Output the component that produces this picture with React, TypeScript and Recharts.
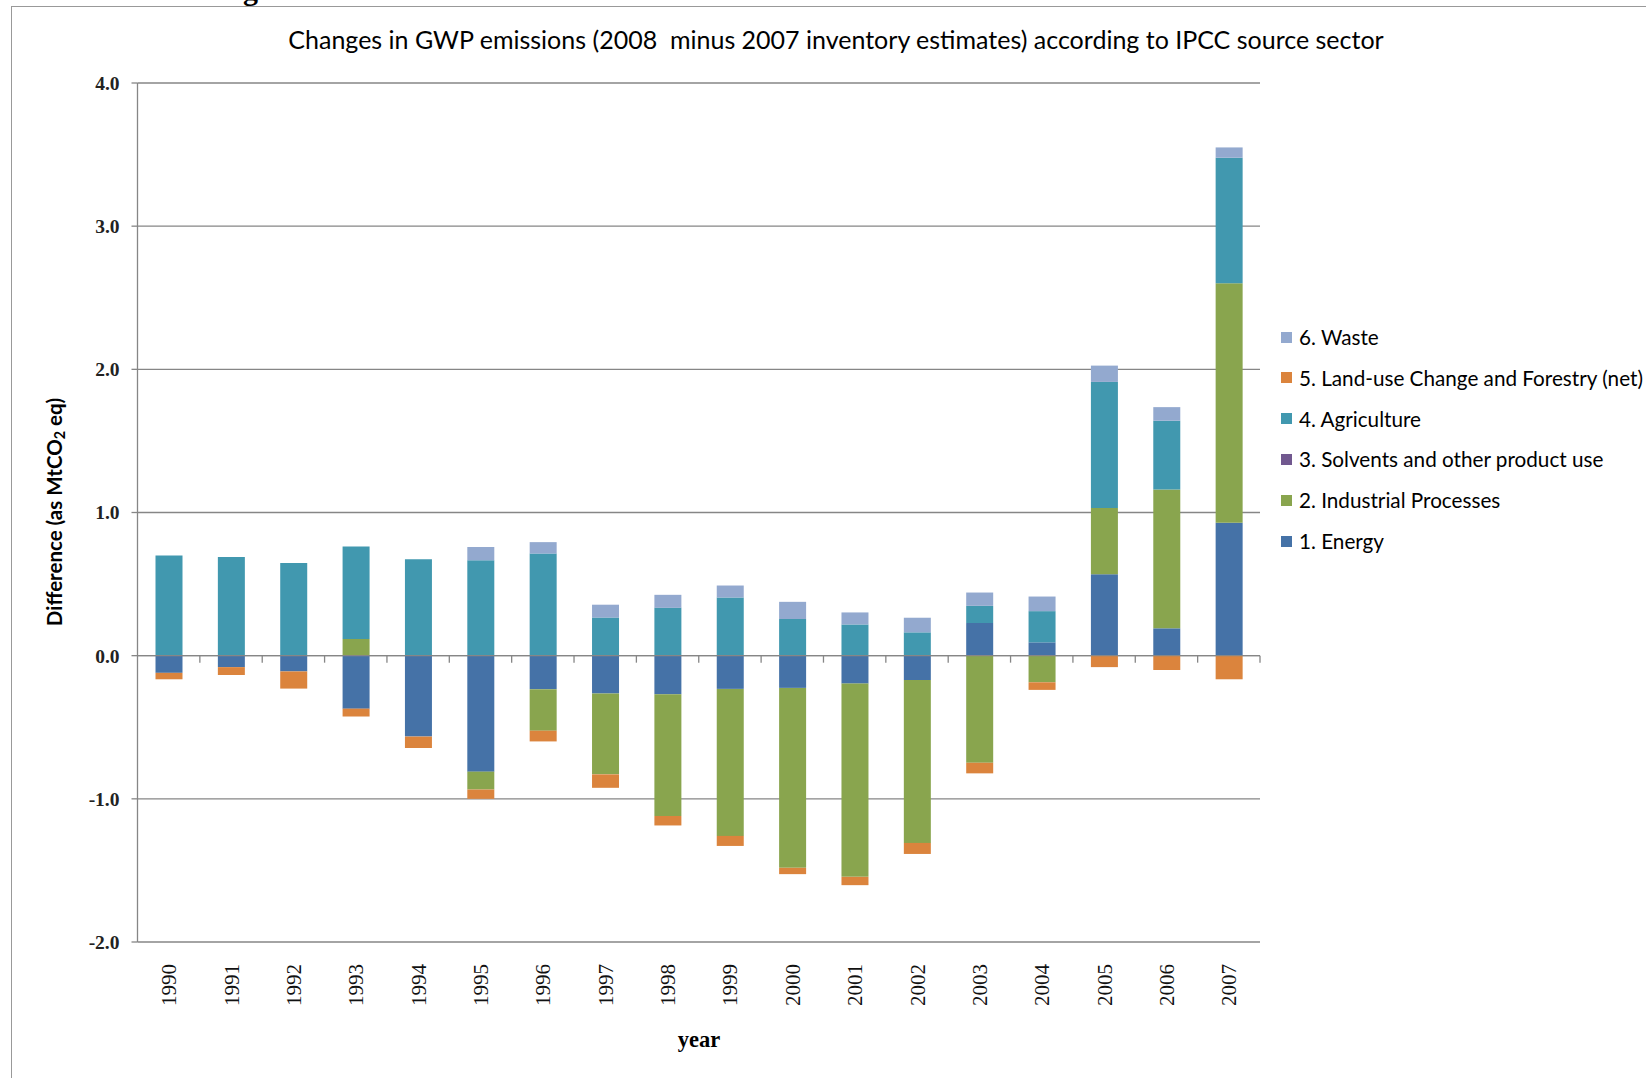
import React from "react";
import { Bar, BarChart, CartesianGrid, ReferenceLine, XAxis, YAxis } from "recharts";

const YEARS = ["1990", "1991", "1992", "1993", "1994", "1995", "1996", "1997", "1998", "1999", "2000", "2001", "2002", "2003", "2004", "2005", "2006", "2007"];

const ENERGY = [-0.12, -0.08, -0.11, -0.37, -0.565, -0.81, -0.234, -0.264, -0.27, -0.232, -0.225, -0.195, -0.17, 0.228, 0.093, 0.568, 0.191, 0.928];
const INDUSTRIAL = [0, 0, 0, 0.117, 0, -0.125, -0.29, -0.565, -0.85, -1.027, -1.257, -1.35, -1.138, -0.748, -0.186, 0.463, 0.969, 1.674];
const SOLVENTS = [0, 0, 0, 0, 0, 0, 0, 0, 0, 0, 0, 0, 0, 0, 0, 0, 0, 0];
const AGRICULTURE = [0.7, 0.69, 0.647, 0.645, 0.673, 0.666, 0.713, 0.266, 0.334, 0.406, 0.256, 0.218, 0.163, 0.12, 0.218, 0.881, 0.481, 0.876];
const LUCF = [-0.045, -0.055, -0.12, -0.055, -0.08, -0.065, -0.075, -0.094, -0.066, -0.07, -0.044, -0.058, -0.077, -0.074, -0.053, -0.08, -0.1, -0.165];
const WASTE = [0, 0, 0, 0, 0, 0.093, 0.08, 0.09, 0.091, 0.084, 0.12, 0.084, 0.102, 0.093, 0.102, 0.114, 0.095, 0.072];

const Y_TICKS = [-2, -1, 0, 1, 2, 3, 4];

// drawing order (bottom of stack first)
const SERIES = [
  { key: "energy", name: "1. Energy", color: "#4572A7", values: ENERGY },
  { key: "industrial", name: "2. Industrial Processes", color: "#89A54E", values: INDUSTRIAL },
  { key: "solvents", name: "3. Solvents and other product use", color: "#71588F", values: SOLVENTS },
  { key: "agriculture", name: "4. Agriculture", color: "#4198AF", values: AGRICULTURE },
  { key: "lucf", name: "5. Land-use Change and Forestry (net)", color: "#DB843D", values: LUCF },
  { key: "waste", name: "6. Waste", color: "#93A9CF", values: WASTE },
];

const data = YEARS.map((year, i) => {
  const row: Record<string, number | string> = { year };
  SERIES.forEach((s) => (row[s.key] = s.values[i]));
  return row;
});

const AXIS = "#868686";
const SANS = "Lato, 'Open Sans', sans-serif";
const SERIF = "'Liberation Serif', 'DejaVu Serif', serif";

function YearTick({ x, y, payload }: any) {
  return (
    <text x={x} y={y} dy="0.36em" textAnchor="end" transform={`rotate(-90, ${x}, ${y})`} fontFamily={SERIF} fontSize={21} fill="#111">
      {payload.value}
    </text>
  );
}

function ZeroAxis(props: any) {
  const { x1, y1, x2 } = props;
  const step = (x2 - x1) / YEARS.length;
  return (
    <g>
      <line x1={x1} y1={y1} x2={x2} y2={y1} stroke={AXIS} strokeWidth={1.3} />
      {YEARS.map((_, i) => (
        <line key={i} x1={x1 + (i + 1) * step} y1={y1} x2={x1 + (i + 1) * step} y2={y1 + 7} stroke={AXIS} strokeWidth={1.3} />
      ))}
    </g>
  );
}

export default function App() {
  return (
    <div style={{ position: "absolute", left: 0, top: 0, width: 1646, height: 1078, overflow: "hidden", background: "#fff" }}>
      <div style={{ position: "absolute", left: 243, top: -27, fontFamily: SERIF, fontWeight: 700, fontSize: 30, color: "#000" }}>g</div>
      <div style={{ position: "absolute", left: 11, top: 6, width: 1700, height: 1100, border: "1.5px solid #999" }} />

      <div style={{ position: "absolute", left: 0, top: 24, width: 1672, textAlign: "center", fontFamily: SANS, fontSize: 25, color: "#000", whiteSpace: "pre" }}>
        {"Changes in GWP emissions (2008  minus 2007 inventory estimates) according to IPCC source sector"}
      </div>

      <div style={{ position: "absolute", left: 0, top: 0 }}>
        <BarChart width={1646} height={1078} data={data} stackOffset="sign" barSize={27} margin={{ top: 83, right: 386, bottom: 76, left: 77.5 }}>
          <CartesianGrid vertical={false} stroke={AXIS} strokeWidth={1.3} />
          <XAxis dataKey="year" axisLine={false} tickLine={false} tickSize={0} tickMargin={22} height={60} interval={0} tick={<YearTick />} />
          <YAxis
            domain={[-2, 4]}
            ticks={Y_TICKS}
            width={60}
            axisLine={{ stroke: AXIS, strokeWidth: 1.3 }}
            tickLine={{ stroke: AXIS, strokeWidth: 1.3 }}
            tickSize={6}
            tickMargin={12}
            tickFormatter={(v) => v.toFixed(1)}
            tick={{ fontFamily: SERIF, fontSize: 19.5, fontWeight: 700, fill: "#222" }}
          />
          {SERIES.map((s) => (
            <Bar key={s.key} dataKey={s.key} name={s.name} stackId="a" fill={s.color} isAnimationActive={false} />
          ))}
          <ReferenceLine y={0} stroke={AXIS} shape={ZeroAxis} />
        </BarChart>
      </div>

      <div
        style={{
          position: "absolute",
          left: 55,
          top: 512,
          transform: "translate(-50%, -50%) rotate(-90deg)",
          whiteSpace: "nowrap",
          fontFamily: SANS,
          fontWeight: 700,
          fontSize: 20.5,
          color: "#000",
        }}
      >
        Difference (as MtCO<span style={{ fontSize: "0.7em", verticalAlign: "-0.15em" }}>2</span> eq)
      </div>

      <div style={{ position: "absolute", left: 699, top: 1040, transform: "translate(-50%, -50%)", fontFamily: SERIF, fontWeight: 700, fontSize: 22.5, color: "#000" }}>
        year
      </div>

      {[...SERIES].reverse().map((s, i) => (
        <div key={s.key} style={{ position: "absolute", left: 1281, top: 337 + i * 40.8, transform: "translateY(-50%)", display: "flex", alignItems: "center", whiteSpace: "nowrap" }}>
          <span style={{ width: 11, height: 11, background: s.color, marginRight: 7 }} />
          <span style={{ fontFamily: SANS, fontSize: 20.7, color: "#000" }}>{s.name}</span>
        </div>
      ))}
    </div>
  );
}
